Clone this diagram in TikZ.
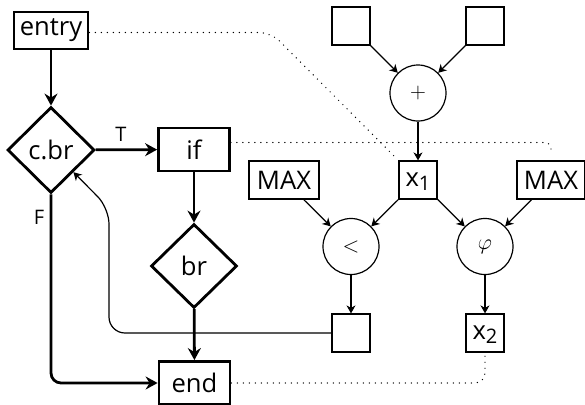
\documentclass[tikz,border=0pt]{standalone}
\usepackage{fix-cm}
\usepackage[no-math]{fontspec}
\setmainfont{Open Sans}
\usetikzlibrary{arrows.meta,shapes.geometric}
\begin{document}
\begin{tikzpicture}[x=1pt,y=-1pt,
  bigtext/.style={font=\fontsize{25.6}{28}\selectfont},
  mathtext/.style={font=\fontsize{22}{22}\selectfont},
  lbltext/.style={font=\fontsize{20}{22}\selectfont},
  flowbox/.style={draw,line width=2.8pt,rectangle,inner sep=0pt,bigtext,minimum width=71pt,minimum height=43pt},
  flowdia/.style={draw,line width=2.8pt,diamond,inner sep=0pt,bigtext,minimum width=87pt,minimum height=86pt},
  valbox/.style={draw,line width=1.2pt,rectangle,inner sep=0pt,minimum width=38pt,minimum height=38pt,bigtext},
  opcirc/.style={draw,line width=1.2pt,circle,inner sep=0pt,minimum size=56pt,mathtext},
  flowarrow/.style={line width=2.8pt,-{Stealth[length=12pt,width=13pt,inset=4pt]}},
  thinarrow/.style={line width=1.2pt,-{Stealth[length=8pt,width=9pt,inset=2.5pt]}},
  dotline/.style={line width=1.4pt,line cap=round,dash pattern=on 0pt off 6pt}
]
\useasboundingbox (0,0) rectangle (585,404);
% control flow
\node[flowbox,minimum width=74pt,minimum height=37pt] (entry) at (51,30.5) {entry};
\node[flowdia] (cbr) at (51,150) {c.br};
\node[flowbox] (if) at (194,149.5) {if};
\node[flowdia,minimum width=86pt,minimum height=84pt] (br) at (194,266) {br};
\node[flowbox] (end) at (194.5,383) {end};
\node[lbltext] (tl) at (121,134.5) {T};
\node[lbltext] (fl) at (39,217) {F};
\draw[flowarrow] (entry) -- (cbr);
\draw[flowarrow] (cbr) -- (if);
\draw[flowarrow] (if) -- (br);
\draw[flowarrow] (br) -- (end);
\draw[flowarrow,rounded corners=10pt] (cbr.south) |- (end.west);
% data flow
\node[valbox] (ta) at (351,26) {};
\node[valbox] (tb) at (485,26) {};
\node[opcirc] (plus) at (418,93) {$+$};
\node[valbox] (x1) at (418,180) {x\raisebox{-4pt}[0pt][0pt]{\fontsize{20}{20}\selectfont 1}};
\node[valbox,minimum width=70pt] (maxl) at (284,180) {MAX};
\node[valbox,minimum width=68pt] (maxr) at (551,180) {MAX};
\node[opcirc] (lt) at (351,246.5) {$<$};
\node[opcirc] (phi) at (485,246.5) {$\varphi$};
\node[valbox] (sb) at (351,333) {};
\node[valbox] (x2) at (485,333) {x\raisebox{-4pt}[0pt][0pt]{\fontsize{20}{20}\selectfont 2}};
\draw[thinarrow] (ta) -- (plus);
\draw[thinarrow] (tb) -- (plus);
\draw[thinarrow] (plus) -- (x1);
\draw[thinarrow] (x1) -- (lt);
\draw[thinarrow] (maxl) -- (lt);
\draw[thinarrow] (x1) -- (phi);
\draw[thinarrow] (maxr) -- (phi);
\draw[thinarrow] (lt) -- (sb);
\draw[thinarrow] (phi) -- (x2);
% feedback
\coordinate (fa) at (109,333);
\coordinate (fb) at (109,208);
\draw[thinarrow,rounded corners=16pt] (sb.west) -- (fa) -- (fb) -- (cbr.south east);
% dotted mappings
\coordinate (da) at (271,32.5);
\draw[dotline,rounded corners=12pt,shorten >=6pt] ([yshift=-2pt]entry.east) -- (da) -- (x1.north west);
\draw[dotline,rounded corners=6pt,shorten >=6pt] ([yshift=7pt]if.east) -| (maxr.north);
\draw[dotline,rounded corners=10pt,shorten >=3pt] (end.east) -| (x2.south);
\end{tikzpicture}
\end{document}
